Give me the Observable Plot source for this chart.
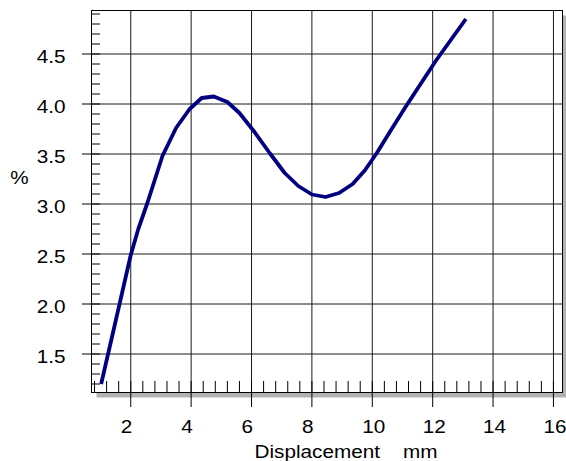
<!DOCTYPE html>
<html>
<head>
<meta charset="utf-8">
<script src="https://cdn.jsdelivr.net/npm/d3@7"></script>
<script src="https://cdn.jsdelivr.net/npm/@observablehq/plot@0.6"></script>
<style>
  html, body { margin: 0; padding: 0; background: #fff; }
</style>
</head>
<body>
<div id="chart"></div>
<script>
// Measured curve: strain (%) against displacement (mm)
const displacement = [1.02, 1.5, 2.0, 2.25, 2.55, 3.05, 3.5, 3.95, 4.35, 4.75, 5.2, 5.6, 6.1, 6.6, 7.1, 7.55, 8.0, 8.45, 8.9, 9.35, 9.75, 10.15, 10.6, 11.1, 11.6, 12.1, 12.6, 13.1];
const percent = [1.2, 1.83, 2.49, 2.75, 3.01, 3.48, 3.76, 3.95, 4.06, 4.075, 4.02, 3.91, 3.72, 3.51, 3.31, 3.18, 3.095, 3.07, 3.11, 3.2, 3.335, 3.51, 3.73, 3.97, 4.2, 4.43, 4.64, 4.85];

// Axis ticks
const xMajor = [2, 4, 6, 8, 10, 12, 14, 16];
const yMajor = [1.5, 2.0, 2.5, 3.0, 3.5, 4.0, 4.5];
const xMinor = d3.range(2, 41).map(i => +(i * 0.4).toFixed(1));
const yMinor = d3.range(12, 50).map(i => +(i * 0.1).toFixed(1));

const xLabel = "Displacement\u00a0\u00a0\u00a0\u00a0mm";
const yLabel = "%";

const rows = displacement.map((x, i) => ({x, y: percent[i]}));

const chart = Plot.plot({
  width: 566,
  height: 461,
  marginLeft: 91,
  marginRight: 4,
  marginTop: 10,
  marginBottom: 69,
  style: {fontFamily: "'Liberation Sans', Arial, sans-serif", fontSize: "18.5px", background: "#fff", color: "#000"},
  x: {domain: [0.7, 16.3]},
  y: {domain: [1.115, 4.935]},
  marks: [
    // drop shadow and white plotting area
    Plot.frame({fill: "#b2b2b2", stroke: null, dx: 5, dy: 5}),
    Plot.frame({fill: "#fff", stroke: null}),
    Plot.gridX({ticks: xMajor, stroke: "#1a1a1a", strokeOpacity: 1}),
    Plot.gridY({ticks: yMajor, stroke: "#1a1a1a", strokeOpacity: 1}),
    // inward minor ticks
    Plot.axisX({ticks: xMinor, tickSize: -11, text: null, label: null}),
    Plot.axisY({ticks: yMinor, tickSize: -9, text: null, label: null}),
    // outward major ticks
    Plot.axisX({ticks: xMajor, tickSize: 15, text: null, label: null}),
    Plot.axisY({ticks: yMajor, tickSize: 9, text: null, label: null}),
    // tick labels
    Plot.axisX({ticks: xMajor, tickSize: 0, tickPadding: 27, textAnchor: "start", dx: -10, tickFormat: d => String(d), label: null}),
    Plot.axisY({ticks: yMajor, tickSize: 0, tickPadding: 26, dy: 3, tickFormat: d3.format(".1f"), label: null}),
    Plot.line(rows, {x: "x", y: "y", stroke: "#000080", strokeWidth: 3.8, strokeLinecap: "butt", strokeLinejoin: "round"}),
    Plot.frame({stroke: "#000", strokeWidth: 1}),
    Plot.text([xLabel], {frameAnchor: "bottom-left", textAnchor: "start", lineAnchor: "bottom", dx: 163, dy: 65, text: d => d}),
    Plot.text([yLabel], {frameAnchor: "left", textAnchor: "middle", lineAnchor: "bottom", dx: -72, dy: -18, text: d => d})
  ]
});

// slightly wider lettering, stretched about each text's own anchor
d3.select(chart).selectAll("text").each(function() {
  const t = this.getAttribute("transform") || "";
  this.setAttribute("transform", (t + " scale(1.12,1)").trim());
});

document.getElementById("chart").appendChild(chart);
</script>
</body>
</html>
